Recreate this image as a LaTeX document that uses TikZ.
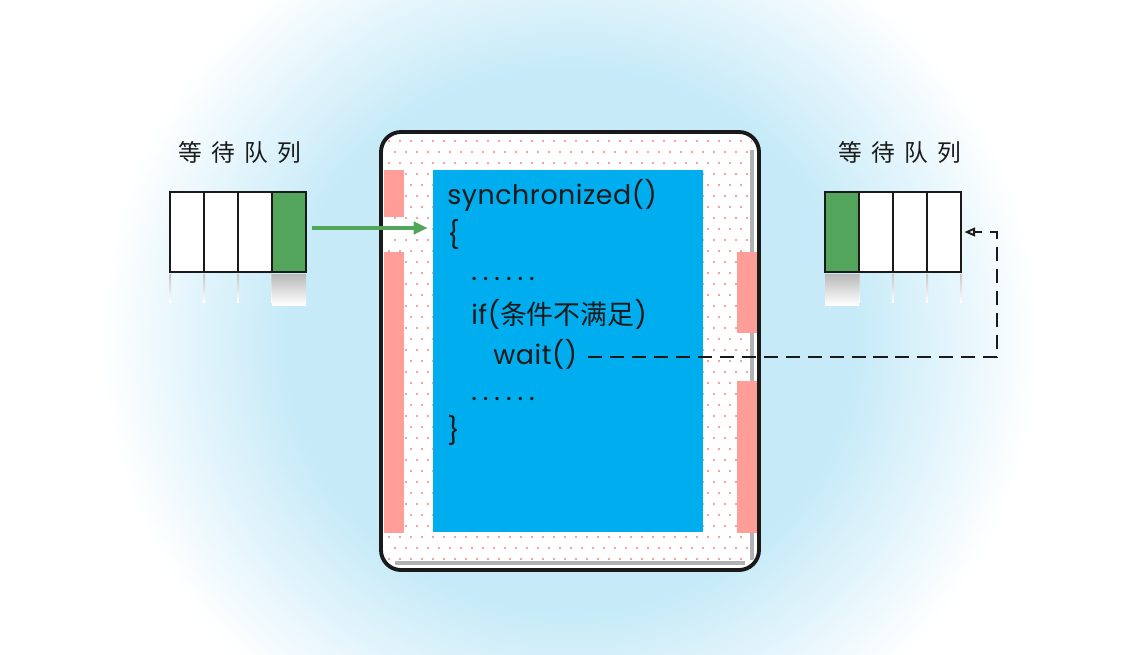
\documentclass[tikz,border=0pt]{standalone}
\usepackage{fontspec}
\setmainfont{Poppins}
\newfontfamily\cjk{Noto Sans CJK SC}
\usetikzlibrary{arrows.meta,positioning,calc}

\definecolor{glowblue}{HTML}{C6EAF8}
\definecolor{codeblue}{HTML}{00AEEF}
\definecolor{barpink}{HTML}{FF9E98}
\definecolor{dotpink}{HTML}{F7A29C}
\definecolor{qgreen}{HTML}{52A55A}
\definecolor{linegray}{HTML}{1A1A1A}

\pgfdeclareradialshading{glow}{\pgfpoint{0bp}{0bp}}{%
  color(0bp)=(glowblue); color(15bp)=(glowblue);
  color(25bp)=(white); color(50bp)=(white)}

\begin{document}
\begin{tikzpicture}[x=0.02cm, y=-0.02cm,
    cell/.style={draw=linegray, line width=1.2pt, fill=white, minimum width=0.68cm, minimum height=1.6cm, inner sep=0pt, outer sep=0pt},
    full/.style={cell, fill=qgreen},
    title/.style={font=\cjk\fontsize{13.5}{15}\selectfont\addfontfeature{LetterSpace=40}, text=linegray},
    code/.style={anchor=base west, inner sep=0pt, font=\fontsize{15.3}{18}\selectfont\addfontfeature{LetterSpace=2}, text=linegray},
    codebox/.style={fill=codeblue, minimum width=5.4cm, minimum height=7.24cm, inner sep=0pt},
    enter/.style={-{Triangle[length=8pt, width=7pt]}, qgreen, line width=2pt},
    release/.style={-{Triangle[open, length=6pt, width=5pt]}, linegray, line width=1.1pt, dash pattern=on 8pt off 4.5pt}
]
\useasboundingbox (0,0) rectangle (1142,654);
\fill[white] (0,0) rectangle (1142,654);
\shade[shading=glow] (570,340) ellipse [x radius=470, y radius=450];

% monitor frame
\fill[white, rounded corners=0.4cm] (381,132) rectangle (759,570);
\begin{scope}
\clip[rounded corners=0.4cm] (383,134) rectangle (757,568);
\foreach \i in {0,...,39} {
  \foreach \j in {0,...,34} {
    \pgfmathsetmacro{\xo}{mod(\i,2)*5.5}
    \fill[dotpink] (388+\j*11+\xo, 140+\i*11) rectangle ++(2,2);
  }
}
\draw[gray!60, line width=2.6pt] (752,150) -- (752,560) (395,563) -- (745,563);
\end{scope}
\fill[barpink] (384,170) rectangle (404,217);
\fill[barpink] (384,252) rectangle (404,533);
\fill[barpink] (737,252) rectangle (757,333);
\fill[barpink] (737,381) rectangle (757,533);
\draw[linegray, line width=2.2pt, rounded corners=0.4cm] (381,132) rectangle (759,570);

% code block
\node[codebox] (code) at (568,351) {};
\node[code] (sync) at (447,204) {synchronized()};
\node[code] (lbrace) at (447,244) {\{};
\node[code] (dots1) at (471,280) {\addfontfeature{LetterSpace=22}......};
\node[code] (cond) at (471,324) {if(\cjk 条件不满足\normalfont)};
\node[code] (wait) at (493,364) {wait()};
\node[code] (dots2) at (471,400) {\addfontfeature{LetterSpace=22}......};
\node[code] (rbrace) at (447,440) {\}};

% left queue
\node[title] (ltitle) at (240,152) {等待队列};
\foreach \k in {0,1,2,3} {
  \shade[top color=gray!45, bottom color=white] (169+\k*34,274) rectangle ++(2,28);
}
\shade[top color=gray!55, bottom color=white] (272,274) rectangle (306,305);
\node[cell] (l1) at (187,232) {};
\node[cell, right=0pt of l1] (l2) {};
\node[cell, right=0pt of l2] (l3) {};
\node[full, right=0pt of l3] (l4) {};

% right queue
\node[title] (rtitle) at (900,152) {等待队列};
\foreach \k in {1,2,3,4} {
  \shade[top color=gray!45, bottom color=white] (824+\k*34,274) rectangle ++(2,28);
}
\shade[top color=gray!55, bottom color=white] (825,274) rectangle (859,305);
\node[full] (r1) at (842,232) {};
\node[cell, right=0pt of r1] (r2) {};
\node[cell, right=0pt of r2] (r3) {};
\node[cell, right=0pt of r3] (r4) {};

% connectors
\draw[enter] ([shift={(6,-4)}]l4.east) -- ([shift={(-5,0)}]code.west |- 0,228);
\coordinate (turn) at (997,357);
\draw[release] ([xshift=6]wait.east |- 0,357) -- (turn) |- ([xshift=2]r4.east);
\end{tikzpicture}
\end{document}
